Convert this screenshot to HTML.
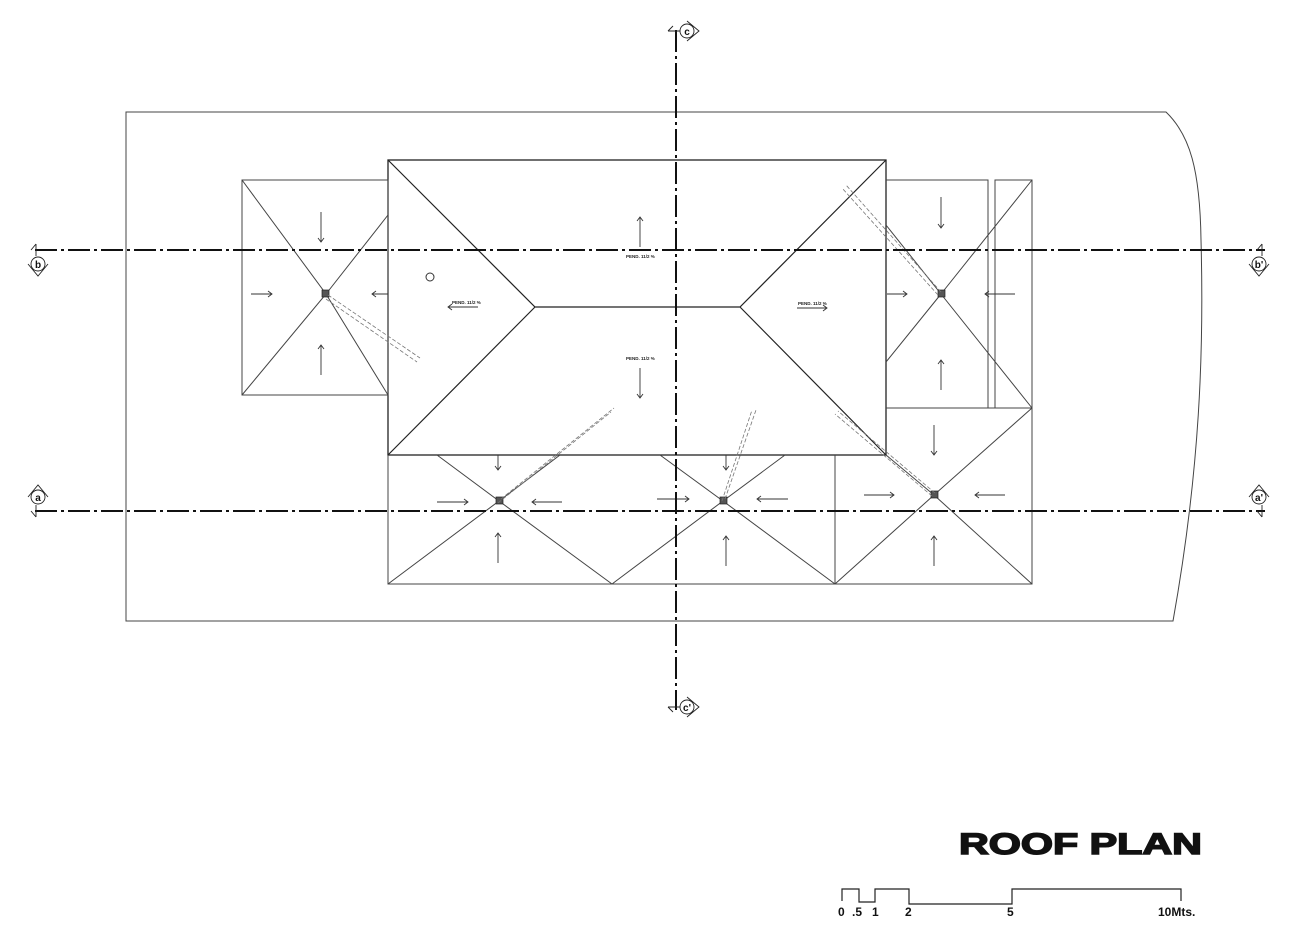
<!DOCTYPE html>
<html><head><style>body{margin:0;background:#fff}svg{display:block}</style></head><body>
<svg width="1300" height="950" viewBox="0 0 1300 950" xmlns="http://www.w3.org/2000/svg" font-family="Liberation Sans, sans-serif">
<g fill="none" stroke="#444" stroke-width="1">
<path d="M126,112 H1166 C1190,135 1200,170 1201,240 C1204,350 1200,470 1173,621 H126 Z"/>
<rect x="388" y="160" width="498" height="295" stroke="#222" stroke-width="1.3"/>
<path d="M388,160 L535,307 L740,307 L886,160 M388,455 L535,307 M740,307 L886,455" stroke="#222" stroke-width="1.2"/>
<rect x="242" y="180" width="146" height="215"/>
<path d="M242,180 L326,294 L242,395 M326,294 L388,395 M326,294 L388,215"/>
<path d="M886,180 H988 V408 M995,408 V180 H1032 V408"/>
<path d="M1032,180 L941,294 L886,225 M941,294 L1032,408 M941,294 L886,362"/>
<path d="M886,408 H1032 V584 H835 V455"/>
<path d="M886,455 L934,495 L1032,408 M934,495 L835,584 M934,495 L1032,584"/>
<path d="M388,455 V584 H835 M612,584 L499,501 L388,584 M612,584 L723,501 L835,584 M437,455 L499,501 L560,455 M660,455 L723,501 L785,455"/>
</g>
<g fill="#555" stroke="#222" stroke-width="0.7">
<rect x="322" y="290" width="7" height="7"/><rect x="938" y="290" width="7" height="7"/>
<rect x="931" y="491" width="7" height="7"/><rect x="496" y="497" width="7" height="7"/><rect x="720" y="497" width="7" height="7"/>
</g>
<g fill="none" stroke="#777" stroke-width="0.8" stroke-dasharray="4,2">
<path d="M328,295 L420,358 M326,299 L417,362"/>
<path d="M501,499 L614,408 M498,503 L611,412"/>
<path d="M725,499 L756,410 M722,501 L752,410"/>
<path d="M941,292 L846,185 M938,295 L842,188"/>
<path d="M935,493 L838,411 M932,496 L835,414"/>
</g>
<circle cx="430" cy="277" r="4" fill="none" stroke="#333"/>
<g fill="none" stroke="#333" stroke-width="0.9">
<path d="M321,212 V242 M318,238 L321,242 L324,238"/>
<path d="M321,375 V345 M318,349 L321,345 L324,349"/>
<path d="M251,294 H272 M268,291 L272,294 L268,297"/>
<path d="M388,294 H372 M376,291 L372,294 L376,297"/>
<path d="M640,247 V217 M637,221 L640,217 L643,221"/>
<path d="M640,368 V398 M637,394 L640,398 L643,394"/>
<path d="M478,307 H448 M452,304 L448,307 L452,310"/>
<path d="M797,308 H827 M823,305 L827,308 L823,311"/>
<path d="M941,197 V228 M938,224 L941,228 L944,224"/>
<path d="M941,390 V360 M938,364 L941,360 L944,364"/>
<path d="M887,294 H907 M903,291 L907,294 L903,297"/>
<path d="M1015,294 H985 M989,291 L985,294 L989,297"/>
<path d="M934,425 V455 M931,451 L934,455 L937,451"/>
<path d="M934,566 V536 M931,540 L934,536 L937,540"/>
<path d="M864,495 H894 M890,492 L894,495 L890,498"/>
<path d="M1005,495 H975 M979,492 L975,495 L979,498"/>
<path d="M498,455 V470 M495,466 L498,470 L501,466"/>
<path d="M498,563 V533 M495,537 L498,533 L501,537"/>
<path d="M437,502 H468 M464,499 L468,502 L464,505"/>
<path d="M562,502 H532 M536,499 L532,502 L536,505"/>
<path d="M726,455 V470 M723,466 L726,470 L729,466"/>
<path d="M726,566 V536 M723,540 L726,536 L729,540"/>
<path d="M657,499 H689 M685,496 L689,499 L685,502"/>
<path d="M788,499 H757 M761,496 L757,499 L761,502"/>
</g>
<g font-size="4.5" font-weight="bold" fill="#222">
<text x="626" y="258">PEND. 11/2 %</text>
<text x="626" y="360">PEND. 11/2 %</text>
<text x="452" y="304">PEND. 11/2 %</text>
<text x="798" y="305">PEND. 11/2 %</text>
</g>
<g stroke="#111" stroke-width="2" fill="none" stroke-dasharray="22,4,3,4">
<path d="M35,250 H1265"/><path d="M35,511 H1265"/><path d="M676,30 V710"/>
</g>
<g fill="#fff" stroke="#222" stroke-width="0.9">
<circle cx="38" cy="264" r="7"/><circle cx="1259" cy="264" r="7"/>
<circle cx="38" cy="497" r="7"/><circle cx="1259" cy="497" r="7"/>
<circle cx="687" cy="31" r="7"/><circle cx="687" cy="707" r="7"/>
</g>
<g fill="none" stroke="#222" stroke-width="0.9">
<path d="M28,264 L38,276 L48,264 M1249,264 L1259,276 L1269,264 M36,244 V256 M31,250 L36,244 M1262,244 V256 M1257,250 L1262,244"/>
<path d="M28,497 L38,485 L48,497 M1249,497 L1259,485 L1269,497 M36,505 V517 M31,511 L36,517 M1262,505 V517 M1257,511 L1262,517"/>
<path d="M687,21 L699,31 L687,41 M687,697 L699,707 L687,717 M668,31 H680 M673,26 L668,31 M668,707 H680 M673,712 L668,707"/>
</g>
<g font-size="10" font-weight="bold" fill="#111" text-anchor="middle">
<text x="38" y="268">b</text><text x="1259" y="268">b'</text>
<text x="38" y="501">a</text><text x="1259" y="501">a'</text>
<text x="687" y="35">c</text><text x="687" y="711">c'</text>
</g>
<text x="959" y="854" font-size="30" font-weight="900" fill="#111" textLength="243" lengthAdjust="spacingAndGlyphs" stroke="#111" stroke-width="1.5">ROOF PLAN</text>
<path d="M842,901 V889 H859 V902 H875 V889 H909 V904 H1012 V889 H1181 V901" fill="none" stroke="#222" stroke-width="1.2"/>
<g font-size="12" font-weight="bold" fill="#111">
<text x="838" y="916">0</text><text x="852" y="916">.5</text><text x="872" y="916">1</text>
<text x="905" y="916">2</text><text x="1007" y="916">5</text><text x="1158" y="916">10Mts.</text>
</g>
</svg>
</body></html>
